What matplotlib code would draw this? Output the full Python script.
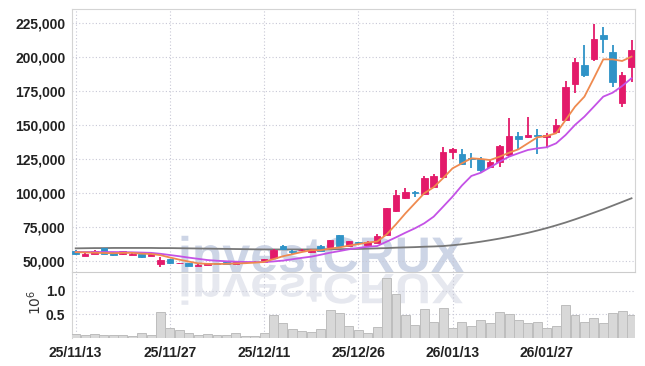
import numpy as np
import matplotlib.pyplot as plt
from matplotlib.textpath import TextPath
from matplotlib.patches import PathPatch
from matplotlib.font_manager import FontProperties
from matplotlib.transforms import Affine2D
from matplotlib.ticker import FuncFormatter

# --- data (prices in thousands, volume in millions) ---
tick_pos = [0, 10, 20, 30, 40, 50]
tick_labels = ['25/11/13', '25/11/27', '25/12/11', '25/12/26', '26/01/13', '26/01/27']

opens = [57.6, 53.9, 55.4, 59.3, 56.1, 54.9, 54.6, 55.4, 53.9, 47.6,
         51.5, 48.2, 48.3, 46.4, 47.3, 48.4, 49.3, 47.8, 49.3, 49.0,
         49.3, 52.5, 61.0, 57.0, 57.8, 56.4, 61.0, 60.5, 68.9, 61.0,
         63.7, 61.8, 63.5, 69.1, 87.0, 96.3, 100.4, 99.2, 104.6, 111.5,
         129.9, 128.6, 125.9, 125.0, 118.9, 122.5, 127.9, 141.9, 141.1, 142.6,
         141.4, 145.0, 153.6, 179.9, 194.1, 198.5, 216.1, 203.4, 166.4, 192.8]
closes = [54.9, 55.4, 57.4, 55.4, 54.4, 57.4, 55.4, 53.2, 55.1, 50.5,
          48.3, 48.5, 46.3, 47.0, 48.3, 48.1, 47.8, 49.3, 49.0, 49.5,
          51.4, 58.1, 58.7, 56.7, 58.1, 58.1, 57.6, 65.4, 61.0, 64.5,
          63.4, 64.0, 68.4, 88.7, 98.5, 100.7, 100.1, 110.8, 112.5, 130.3,
          132.1, 121.3, 125.0, 116.9, 122.5, 134.5, 141.9, 139.5, 142.6, 142.1,
          142.4, 150.0, 177.9, 196.3, 186.7, 213.2, 213.2, 181.8, 186.7, 205.1]
highs = [58.2, 55.8, 57.9, 59.6, 56.5, 57.7, 55.8, 55.7, 55.6, 52.7,
         51.8, 48.9, 48.6, 47.5, 48.7, 48.8, 49.6, 49.7, 49.6, 49.8,
         51.8, 58.5, 61.4, 58.1, 58.5, 58.5, 61.4, 65.8, 69.3, 64.9,
         64.2, 64.4, 69.7, 89.1, 102.2, 103.7, 101.7, 112.3, 114.0, 134.0,
         133.3, 132.1, 129.4, 126.4, 124.2, 135.5, 154.9, 144.6, 155.6, 146.8,
         143.9, 154.2, 182.1, 199.0, 208.8, 224.2, 221.8, 208.8, 189.1, 212.4]
lows = [54.5, 53.5, 55.0, 55.0, 54.0, 54.5, 54.2, 52.0, 53.5, 45.8,
        48.0, 47.8, 46.0, 46.0, 46.9, 47.8, 47.5, 47.5, 48.7, 48.7,
        49.0, 52.2, 58.4, 55.1, 57.4, 56.0, 57.2, 60.1, 60.6, 60.1,
        62.8, 61.4, 63.1, 68.7, 86.0, 95.8, 97.3, 98.5, 104.0, 111.0,
        124.7, 120.6, 118.4, 115.6, 118.4, 119.3, 126.7, 131.6, 140.4, 128.6,
        134.0, 144.8, 152.9, 173.3, 185.5, 197.2, 202.7, 178.1, 163.4, 181.8]
volume = [0.083, 0.061, 0.083, 0.061, 0.055, 0.055, 0.034, 0.104, 0.055, 0.542,
          0.203, 0.161, 0.097, 0.060, 0.080, 0.055, 0.055, 0.100, 0.032, 0.032,
          0.097, 0.485, 0.309, 0.182, 0.146, 0.118, 0.182, 0.584, 0.520, 0.245,
          0.160, 0.104, 0.224, 1.262, 0.923, 0.485, 0.266, 0.605, 0.330, 0.627,
          0.217, 0.330, 0.259, 0.372, 0.309, 0.542, 0.500, 0.372, 0.309, 0.330,
          0.203, 0.245, 0.697, 0.485, 0.330, 0.415, 0.309, 0.520, 0.563, 0.485]
ma_short = [56.5, 56.3, 56.1, 55.9, 55.7, 56.0, 56.0, 55.4, 55.2, 54.3,
            52.6, 51.0, 49.6, 48.3, 47.9, 47.8, 47.9, 48.2, 48.4, 48.8,
            49.3, 51.4, 53.5, 55.0, 56.6, 57.9, 57.9, 59.1, 60.0, 61.3,
            62.4, 63.6, 64.3, 69.5, 77.0, 85.0, 92.4, 99.8, 104.2, 110.9,
            118.1, 121.8, 125.5, 125.0, 124.2, 126.7, 129.6, 132.1, 136.5, 140.9,
            141.9, 143.9, 153.6, 163.4, 170.8, 184.3, 198.2, 198.2, 197.0, 200.2]
ma_mid = [56.6, 56.6, 56.6, 56.6, 56.6, 56.5, 56.4, 56.2, 56.0, 55.3,
          54.4, 53.5, 52.5, 51.6, 50.7, 50.2, 49.8, 49.5, 49.3, 49.2,
          49.2, 49.7, 50.3, 51.3, 52.3, 53.2, 54.6, 56.1, 57.3, 58.6,
          59.6, 60.5, 61.0, 64.2, 67.4, 70.8, 74.0, 77.7, 82.6, 89.9,
          97.3, 105.5, 112.5, 114.9, 118.9, 123.0, 126.7, 129.2, 131.6, 132.8,
          133.6, 136.5, 142.6, 150.0, 156.1, 163.4, 170.8, 173.7, 178.6, 184.3]
ma_long = [59.3, 59.4, 59.5, 59.5, 59.6, 59.6, 59.6, 59.6, 59.6, 59.5,
           59.5, 59.4, 59.3, 59.2, 59.1, 59.0, 58.9, 58.8, 58.7, 58.6,
           58.5, 58.5, 58.5, 58.5, 58.5, 58.5, 58.5, 58.6, 58.7, 58.8,
           58.9, 59.1, 59.3, 59.5, 59.8, 60.0, 60.2, 60.5, 60.7, 61.0,
           61.6, 62.3, 63.2, 64.2, 65.3, 66.5, 67.8, 69.2, 70.7, 72.4,
           74.2, 76.2, 78.3, 80.6, 83.0, 85.5, 88.0, 90.7, 93.4, 96.1]

o = np.array(opens) * 1000
c = np.array(closes) * 1000
h = np.array(highs) * 1000
l = np.array(lows) * 1000
v = np.array(volume) * 1e6
x = np.arange(len(o))

up_col = '#e31a6a'
down_col = '#2f93c7'
grid_col = '#c8c8d6'
tick_font = ['Liberation Sans Narrow', 'Liberation Sans', 'DejaVu Sans']

fig = plt.figure(figsize=(6.45, 3.66), dpi=100)
fig.patch.set_facecolor('white')
ax = fig.add_axes([0.1112, 0.256, 0.8733, 0.7194])
axv = fig.add_axes([0.1112, 0.0765, 0.8733, 0.1795], sharex=ax)
for a in (ax, axv):
    a.set_facecolor('none')

# watermark + its reflection
fp = FontProperties(family=['Liberation Sans', 'DejaVu Sans'], weight='bold')
tp = TextPath((0, 0), 'investCRUX', size=50, prop=fp)
wm = PathPatch(tp, transform=Affine2D().translate(178, 94), fc='#cdd5e6', ec='none', zorder=-2)
fig.add_artist(wm)
refl = PathPatch(tp, transform=Affine2D().scale(1, -0.85).translate(178, 92), fc='#e6e8ef', ec='none', zorder=-2)
fig.add_artist(refl)

# candles
cols = [up_col if cc >= oo else down_col for oo, cc in zip(o, c)]
ax.vlines(x, l, h, colors=cols, linewidth=1.3, zorder=3)
body = np.maximum(np.abs(c - o), 300)
ax.bar(x, body, bottom=np.minimum(o, c), width=0.7, color=cols, edgecolor=cols, linewidth=0.6, zorder=4)

# moving averages
ax.plot(x, np.array(ma_long) * 1000, color='#777777', lw=1.3, zorder=2)
ax.plot(x, np.array(ma_mid) * 1000, color='#c452e6', lw=1.3, zorder=5)
ax.plot(x, np.array(ma_short) * 1000, color='#ef8a4f', lw=1.3, zorder=6)

ax.set_xlim(-0.42, 59.37)
ax.set_ylim(41700, 235200)
ax.set_yticks(np.arange(50000, 225001, 25000))
ax.yaxis.set_major_formatter(FuncFormatter(lambda val, p: f'{val:,.0f}'))
ax.set_xticks(tick_pos)
ax.tick_params(axis='x', labelbottom=False, length=0)
ax.tick_params(axis='y', length=0, pad=4.5, labelsize=10, labelcolor='#222222')
ax.grid(True, color=grid_col, linestyle=(0, (1, 2)), linewidth=0.8)
for s in ('top', 'left', 'right'):
    ax.spines[s].set_color('#d4d4d4')
ax.spines['bottom'].set_color('#cccccc')

# volume
axv.bar(x, v, width=0.95, color='#d8d8d8', edgecolor='#bdbdbd', linewidth=0.7, zorder=3)
axv.set_ylim(0, 1.39e6)
axv.set_yticks([0.5e6, 1.0e6])
axv.yaxis.set_major_formatter(FuncFormatter(lambda val, p: f'{val / 1e6:.1f}'))
axv.set_xticks(tick_pos)
axv.set_xticklabels(tick_labels)
axv.tick_params(axis='both', length=0, labelsize=10, labelcolor='#222222')
axv.tick_params(axis='y', pad=4.5)
axv.tick_params(axis='x', pad=5.5)
axv.grid(True, color=grid_col, linestyle=(0, (1, 2)), linewidth=0.8)
for s in ('top', 'right', 'bottom'):
    axv.spines[s].set_visible(False)
axv.spines['left'].set_color('#d4d4d4')
fig.text(0.054, 0.175, r'$10^{6}$', rotation=90, ha='center', va='center', fontsize=10, color='#333333')

for lab in ax.get_yticklabels() + axv.get_yticklabels() + axv.get_xticklabels():
    lab.set_family(tick_font)
    lab.set_fontweight('bold')

fig.savefig('out.png', dpi=100)
